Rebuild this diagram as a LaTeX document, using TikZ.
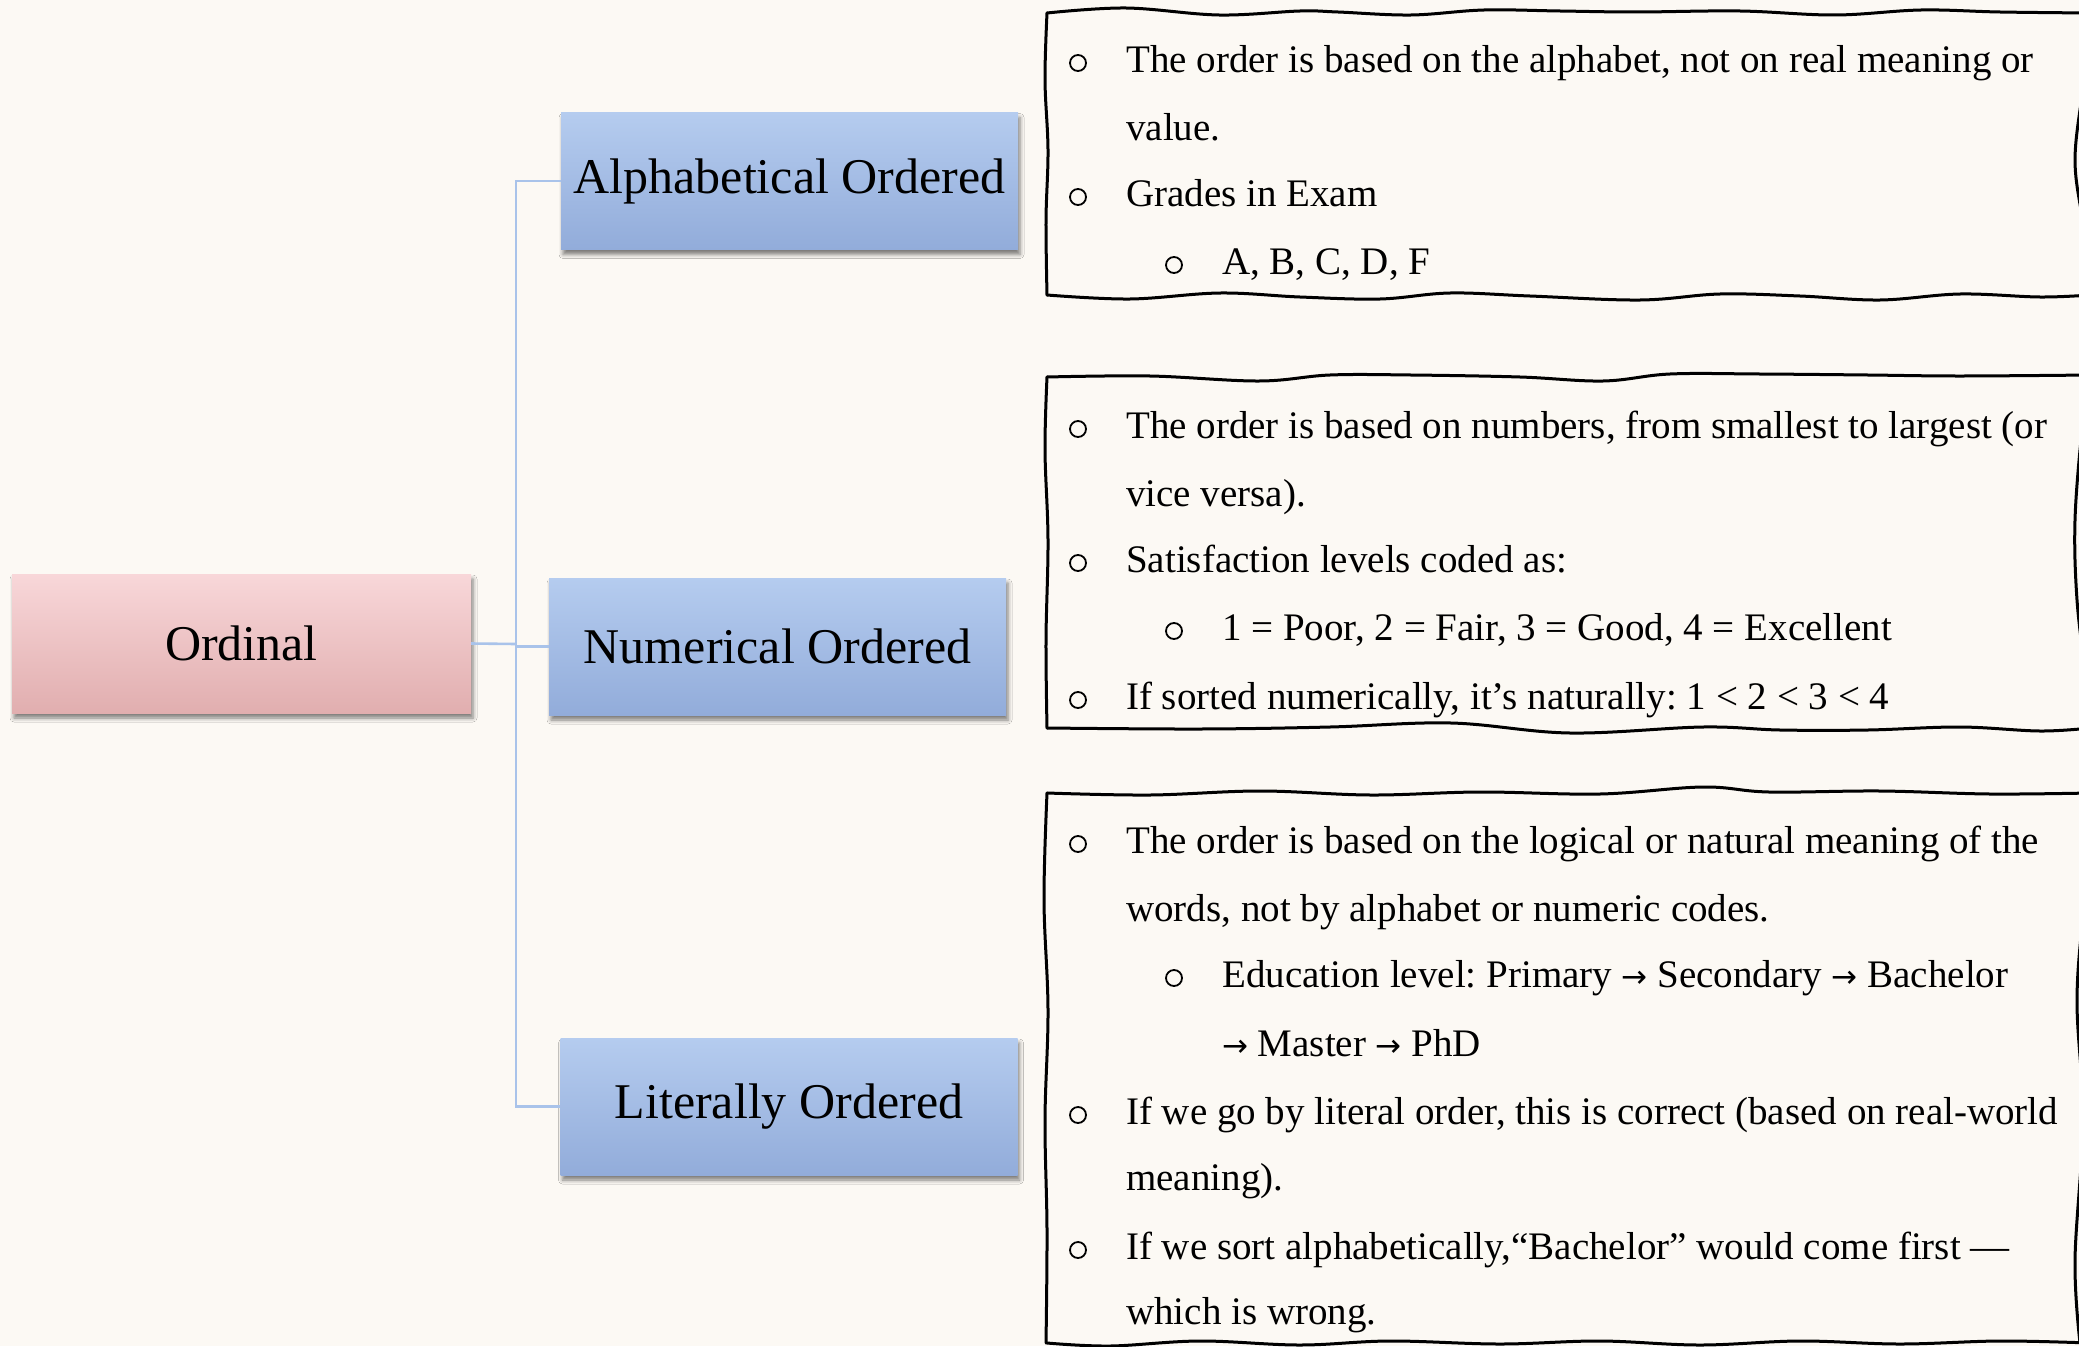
\documentclass[tikz,border=0pt]{standalone}
\usepackage{fontspec}
\setmainfont{Liberation Serif}
\newfontfamily\arrowfamily{DejaVu Sans}
\usetikzlibrary{shadows.blur}
\frenchspacing

\definecolor{paper}{HTML}{FCF9F4}
\definecolor{linkblue}{HTML}{A9C3EA}
\definecolor{bluetop}{HTML}{B5CCEF}
\definecolor{bluebot}{HTML}{92ACDA}
\definecolor{pinktop}{HTML}{F8D7D9}
\definecolor{pinkbot}{HTML}{E1AEAF}

% arrow used in the education sequence
\newcommand\seqarrow{{\arrowfamily\fontsize{31}{47}\selectfont →}}

\tikzset{
  catbox/.style={minimum width=457pt, minimum height=137pt, inner sep=0pt,
    font=\fontsize{50}{60}\selectfont, top color=bluetop, bottom color=bluebot,
    blur shadow={shadow xshift=2pt, shadow yshift=-5pt, shadow blur radius=4pt, shadow opacity=50}},
  rootbox/.style={catbox, top color=pinktop, bottom color=pinkbot,
    minimum width=459pt, minimum height=139pt},
  link/.style={draw=linkblue, line width=2.6pt},
  sketch/.style={draw=black, line width=3pt, line cap=round, line join=round},
  item/.style={anchor=base west, inner sep=0pt, font=\fontsize{39}{47}\selectfont},
  bul/.style={circle, draw=black, line width=1.8pt, minimum size=16pt, inner sep=0pt},
}

\begin{document}
\begin{tikzpicture}[x=1pt, y=-1pt]
  % page
  \fill[paper] (0,0) rectangle (2079,1346);
  \clip (0,0) rectangle (2079,1346);

  % category boxes
  \node[rootbox] (ord)   at (241.5,643.5) {Ordinal};
  \node[catbox]  (alpha) at (789.5,181)   {Alphabetical Ordered};
  \node[catbox]  (num)   at (777.5,646.5) {Numerical Ordered};
  \node[catbox]  (lit)   at (789,1106.5)  {Literally Ordered};

  % tree connectors
  \coordinate (hub) at (516,644);
  \draw[link] (ord.east) -- (hub);
  \draw[link] (alpha.west) -| (hub);
  \draw[link] (lit.west) -| (hub);
  \draw[link] (num.west) -- (num.west -| hub);

  % hand-drawn note frames
  \draw[sketch] plot[smooth, tension=0.6] coordinates {(1047,13) (1126,8) (1219,15) (1300,11) (1338,12) (1411,15) (1484,10) (1560,11) (1636,12) (1740,11) (1835,15) (1921,10) (2000,12) (2090,13)};
  \draw[sketch] plot[smooth, tension=0.6] coordinates {(1047,295) (1130,299) (1220,293) (1300,297) (1380,299) (1450,293) (1530,296) (1640,300) (1720,294) (1800,296) (1880,300) (1960,294) (2040,297) (2090,295)};
  \draw[sketch] plot[smooth, tension=0.6] coordinates {(1047,13) (1045,80) (1048,150) (1046,220) (1047,295)};
  \draw[sketch] plot[smooth, tension=0.6] coordinates {(2090,13) (2084,80) (2075,160) (2084,230) (2090,295)};

  \draw[sketch] plot[smooth, tension=0.6] coordinates {(1047,377) (1150,376) (1259,381) (1330,375) (1411,375) (1520,377) (1603,381) (1670,374) (1760,374) (1868,375) (1960,376) (2090,375)};
  \draw[sketch] plot[smooth, tension=0.6] coordinates {(1047,728) (1200,729) (1330,727) (1451,723) (1570,733) (1703,727) (1780,730) (1868,730) (1960,727) (2040,731) (2090,728)};
  \draw[sketch] plot[smooth, tension=0.6] coordinates {(1047,377) (1045,450) (1048,540) (1046,640) (1047,728)};
  \draw[sketch] plot[smooth, tension=0.6] coordinates {(2090,375) (2082,430) (2075,520) (2077,600) (2086,680) (2090,728)};

  \draw[sketch] plot[smooth, tension=0.6] coordinates {(1047,793) (1150,795) (1260,791) (1371,795) (1480,792) (1600,794) (1703,787) (1769,792) (1880,791) (1990,794) (2090,793)};
  \draw[sketch] plot[smooth, tension=0.6] coordinates {(1047,1343) (1110,1346) (1200,1341) (1300,1345) (1390,1341) (1500,1344) (1600,1341) (1700,1345) (1800,1341) (1900,1344) (2000,1341) (2090,1343)};
  \draw[sketch] plot[smooth, tension=0.6] coordinates {(1047,793) (1044,900) (1048,1010) (1045,1120) (1047,1230) (1046,1343)};
  \draw[sketch] plot[smooth, tension=0.6] coordinates {(2090,793) (2084,900) (2077,1000) (2083,1120) (2075,1260) (2080,1343)};

  % notes: alphabetical
  \node[bul]  (a1b) at (1078,63)  {};
  \node[item] (a1)  at (1126,72)  {The order is based on the alphabet, not on real meaning or};
  \node[item] (a1c) at (1126,140) {value.};
  \node[bul]  (a2b) at (1078,197) {};
  \node[item] (a2)  at (1126,206) {Grades in Exam};
  \node[bul]  (a3b) at (1174,265) {};
  \node[item] (a3)  at (1222,274) {A, B, C, D, F};

  % notes: numerical
  \node[bul]  (n1b) at (1078,429) {};
  \node[item] (n1)  at (1126,438) {The order is based on numbers, from smallest to largest (or};
  \node[item] (n1c) at (1126,506) {vice versa).};
  \node[bul]  (n2b) at (1078,563) {};
  \node[item] (n2)  at (1126,572) {Satisfaction levels coded as:};
  \node[bul]  (n3b) at (1174,631) {};
  \node[item] (n3)  at (1222,640) {1 = Poor, 2 = Fair, 3 = Good, 4 = Excellent};
  \node[bul]  (n4b) at (1078,700) {};
  \node[item] (n4)  at (1126,709) {If sorted numerically, it’s naturally: 1 < 2 < 3 < 4};

  % notes: literal
  \node[bul]  (l1b) at (1078,844)  {};
  \node[item] (l1)  at (1126,853)  {The order is based on the logical or natural meaning of the};
  \node[item] (l1c) at (1126,921)  {words, not by alphabet or numeric codes.};
  \node[bul]  (l2b) at (1174,978)  {};
  \node[item] (l2)  at (1222,987)  {Education level: Primary \seqarrow{} Secondary \seqarrow{} Bachelor};
  \node[item] (l2c) at (1222,1056) {\seqarrow{} Master \seqarrow{} PhD};
  \node[bul]  (l3b) at (1078,1115) {};
  \node[item] (l3)  at (1126,1124) {If we go by literal order, this is correct (based on real-world};
  \node[item] (l3c) at (1126,1190) {meaning).};
  \node[bul]  (l4b) at (1078,1250) {};
  \node[item] (l4)  at (1126,1259) {If we sort alphabetically,“Bachelor” would come first —};
  \node[item] (l4c) at (1126,1324) {which is wrong.};
\end{tikzpicture}
\end{document}
